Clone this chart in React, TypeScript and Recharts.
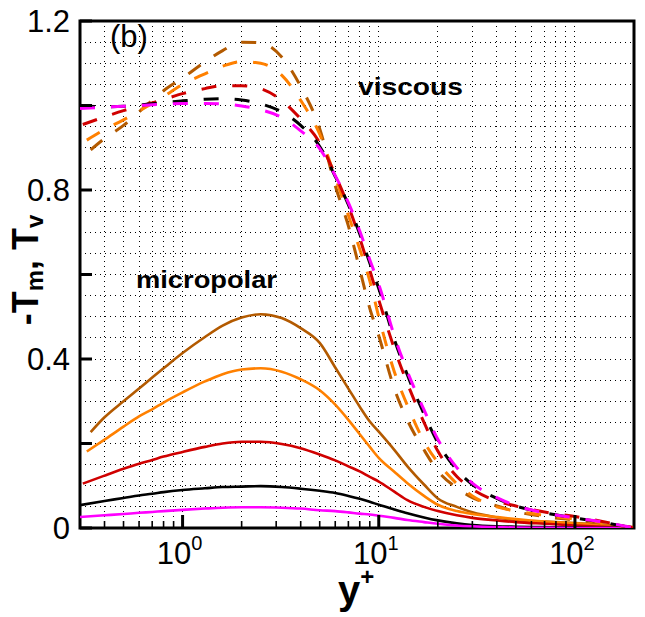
import React from 'react';
import { LineChart, Line, XAxis, YAxis, CartesianGrid, ReferenceArea, Customized } from 'recharts';

// y+ sample positions (log axis)
const xs = [0.3, 0.4, 0.5, 0.6, 0.7, 0.8, 1.0, 1.3, 1.6, 2.0, 2.5, 3.2, 4.0, 5.0, 6.0, 7.0, 8.0, 9.0, 10, 12, 14, 17, 20, 25, 30, 40, 50, 70, 100, 140, 200];

// series order: magenta, black, red, orange, brown
const colors = ['#FF00FF', '#000000', '#D00000', '#FF8000', '#B35A00'];
const firstX = [0.3, 0.3, 0.31, 0.325, 0.34];

// micropolar (-Tm), solid lines
const tmMagenta = [0.026, 0.030, 0.033, 0.036, 0.038, 0.040, 0.043, 0.046, 0.048, 0.049, 0.049, 0.048, 0.046, 0.042, 0.040, 0.037, 0.034, 0.032, 0.029, 0.024, 0.019, 0.014, 0.010, 0.006, 0.004, 0.002, 0.001, 0.0005, 0, 0, 0];
const tmBlack = [0.054, 0.064, 0.071, 0.077, 0.081, 0.085, 0.090, 0.094, 0.097, 0.098, 0.099, 0.097, 0.093, 0.088, 0.083, 0.076, 0.069, 0.062, 0.055, 0.044, 0.035, 0.025, 0.018, 0.011, 0.007, 0.004, 0.003, 0.002, 0.001, 0.0005, 0];
const tmRed = [0.105, 0.124, 0.140, 0.152, 0.161, 0.169, 0.180, 0.192, 0.200, 0.204, 0.204, 0.199, 0.189, 0.174, 0.160, 0.146, 0.134, 0.121, 0.110, 0.086, 0.066, 0.050, 0.040, 0.030, 0.024, 0.018, 0.014, 0.010, 0.006, 0.003, 0];
const tmOrange = [0.181, 0.209, 0.240, 0.264, 0.281, 0.297, 0.321, 0.347, 0.364, 0.375, 0.378, 0.370, 0.352, 0.326, 0.292, 0.256, 0.222, 0.192, 0.166, 0.133, 0.106, 0.076, 0.055, 0.040, 0.033, 0.026, 0.021, 0.015, 0.011, 0.006, 0];
const tmBrown = [0.227, 0.262, 0.300, 0.330, 0.356, 0.378, 0.414, 0.452, 0.479, 0.498, 0.506, 0.497, 0.473, 0.438, 0.380, 0.330, 0.287, 0.252, 0.228, 0.185, 0.146, 0.103, 0.070, 0.050, 0.037, 0.025, 0.019, 0.015, 0.012, 0.008, 0.002];

// viscous (Tv), dashed lines
const tvMagenta = [0.993, 0.996, 0.998, 1.0, 1.002, 1.003, 1.005, 1.005, 1.004, 0.999, 0.99, 0.972, 0.94, 0.898, 0.834, 0.77, 0.703, 0.635, 0.577, 0.455, 0.37, 0.28, 0.21, 0.143, 0.106, 0.072, 0.053, 0.036, 0.024, 0.014, 0];
const tvBlack = [1.0, 0.997, 0.998, 1.001, 1.004, 1.007, 1.011, 1.015, 1.016, 1.013, 1.004, 0.985, 0.953, 0.903, 0.832, 0.765, 0.696, 0.627, 0.567, 0.447, 0.362, 0.270, 0.202, 0.138, 0.103, 0.070, 0.052, 0.036, 0.024, 0.013, 0];
const tvRed = [0.955, 0.973, 0.988, 0.998, 1.006, 1.014, 1.028, 1.040, 1.047, 1.047, 1.040, 1.012, 0.968, 0.912, 0.836, 0.762, 0.686, 0.61, 0.54, 0.425, 0.342, 0.25, 0.182, 0.122, 0.092, 0.064, 0.052, 0.038, 0.027, 0.015, 0];
const tvOrange = [0.918, 0.943, 0.966, 0.987, 1.005, 1.021, 1.050, 1.075, 1.093, 1.104, 1.100, 1.072, 1.012, 0.932, 0.83, 0.74, 0.66, 0.585, 0.50, 0.37, 0.29, 0.205, 0.155, 0.105, 0.076, 0.05, 0.040, 0.030, 0.021, 0.012, 0];
const tvBrown = [0.895, 0.922, 0.953, 0.985, 1.012, 1.035, 1.065, 1.103, 1.130, 1.150, 1.148, 1.115, 1.045, 0.945, 0.81, 0.715, 0.612, 0.52, 0.455, 0.33, 0.255, 0.185, 0.135, 0.095, 0.072, 0.052, 0.039, 0.027, 0.019, 0.011, 0];

const tmSeries = [tmMagenta, tmBlack, tmRed, tmOrange, tmBrown];
const tvSeries = [tvMagenta, tvBlack, tvRed, tvOrange, tvBrown];

const xTicks = [0.3, 0.4, 0.5, 0.6, 0.7, 0.8, 0.9, 1, 2, 3, 4, 5, 6, 7, 8, 9, 10, 20, 30, 40, 50, 60, 70, 80, 90, 100, 200];
const yTicks = [0, 0.05, 0.1, 0.15, 0.2, 0.25, 0.3, 0.35, 0.4, 0.45, 0.5, 0.55, 0.6, 0.65, 0.7, 0.75, 0.8, 0.85, 0.9, 0.95, 1.0, 1.05, 1.1, 1.15, 1.2];
const yLabels = ['0', '0.4', '0.8', '1.2'];

const FONT = '"Liberation Sans", Arial, Helvetica, sans-serif';

const mk = (vals: number[], i: number) =>
  vals.map((v, j) => ({ x: j === 0 ? firstX[i] : xs[j], y: v }));

const XTick = (props: any) => {
  const { x, y, payload } = props;
  const v = payload.value;
  const lg = Math.log10(v);
  const dec = Math.abs(lg - Math.round(lg)) < 1e-6;
  return (
    <g>
      <line x1={x} x2={x} y1={y} y2={y - (dec ? 13 : 7)} stroke="#000" strokeWidth={dec ? 3 : 1.6} />
      {dec && (
        <text x={x - 3} y={y + 36} textAnchor="middle" fontSize={31} fontFamily={FONT} fill="#000">
          10<tspan dy={-14} fontSize={20}>{Math.round(lg)}</tspan>
        </text>
      )}
    </g>
  );
};

const YTick = (props: any) => {
  const { x, y, payload } = props;
  const k = Math.round(payload.value * 20);
  const mark = k % 4 === 0;
  const lab = k % 8 === 0;
  return (
    <g>
      {mark && <line x1={x} x2={x + 12} y1={y} y2={y} stroke="#000" strokeWidth={3} />}
      {lab && (
        <text x={x - 10} y={y + 11} textAnchor="end" fontSize={31} fontFamily={FONT} fill="#000">
          {yLabels[k / 8]}
        </text>
      )}
    </g>
  );
};

const Annotations = () => (
  <g fontFamily={FONT} fill="#000">
    <text x={102} y={38.5} fontSize={31}>(b)</text>
    <text x={350} y={87} fontSize={24} fontWeight="bold" textLength={105} lengthAdjust="spacingAndGlyphs">viscous</text>
    <text x={128} y={280} fontSize={23} fontWeight="bold" textLength={141} lengthAdjust="spacingAndGlyphs">micropolar</text>
    <text transform="translate(30,262) rotate(-90)" textAnchor="middle" fontSize={36} fontWeight="bold">
      -T<tspan fontSize={24} dy={5}>m</tspan><tspan fontSize={36} dy={-5}>, T</tspan><tspan fontSize={24} dy={5}>v</tspan>
    </text>
    <text x={330} y={596} fontSize={40} fontWeight="bold">
      y<tspan fontSize={24} dy={-19}>+</tspan>
    </text>
  </g>
);

export default function App() {
  return (
    <LineChart width={637} height={609} margin={{ top: 13, right: 11, bottom: 9, left: 0 }}>
      <CartesianGrid stroke="#000" strokeWidth={1} strokeDasharray="1 4" shapeRendering="crispEdges" />
      <XAxis
        dataKey="x"
        type="number"
        scale="log"
        domain={[0.3, 200]}
        allowDataOverflow
        ticks={xTicks}
        interval={0}
        tick={<XTick />}
        tickLine={false}
        axisLine={false}
        tickSize={0}
        tickMargin={0}
        height={80}
      />
      <YAxis
        type="number"
        domain={[0, 1.2]}
        allowDataOverflow
        ticks={yTicks}
        interval={0}
        tick={<YTick />}
        tickLine={false}
        axisLine={false}
        tickSize={0}
        tickMargin={0}
        width={72}
      />
      {tmSeries.map((vals, i) => (
        <Line
          key={'tm' + i}
          data={mk(vals, i)}
          dataKey="y"
          type="monotone"
          stroke={colors[i]}
          strokeWidth={2.6}
          dot={false}
          activeDot={false}
          isAnimationActive={false}
        />
      )).reverse()}
      {tvSeries.map((vals, i) => (
        <Line
          key={'tv' + i}
          data={mk(vals, i)}
          dataKey="y"
          type="monotone"
          stroke={colors[i]}
          strokeWidth={3}
          strokeDasharray="15 16"
          dot={false}
          activeDot={false}
          isAnimationActive={false}
        />
      )).reverse()}
      <ReferenceArea x1={0.3} x2={200} y1={0} y2={1.2} fill="none" stroke="#000" strokeWidth={3} ifOverflow="visible" />
      <Customized component={Annotations} />
    </LineChart>
  );
}
